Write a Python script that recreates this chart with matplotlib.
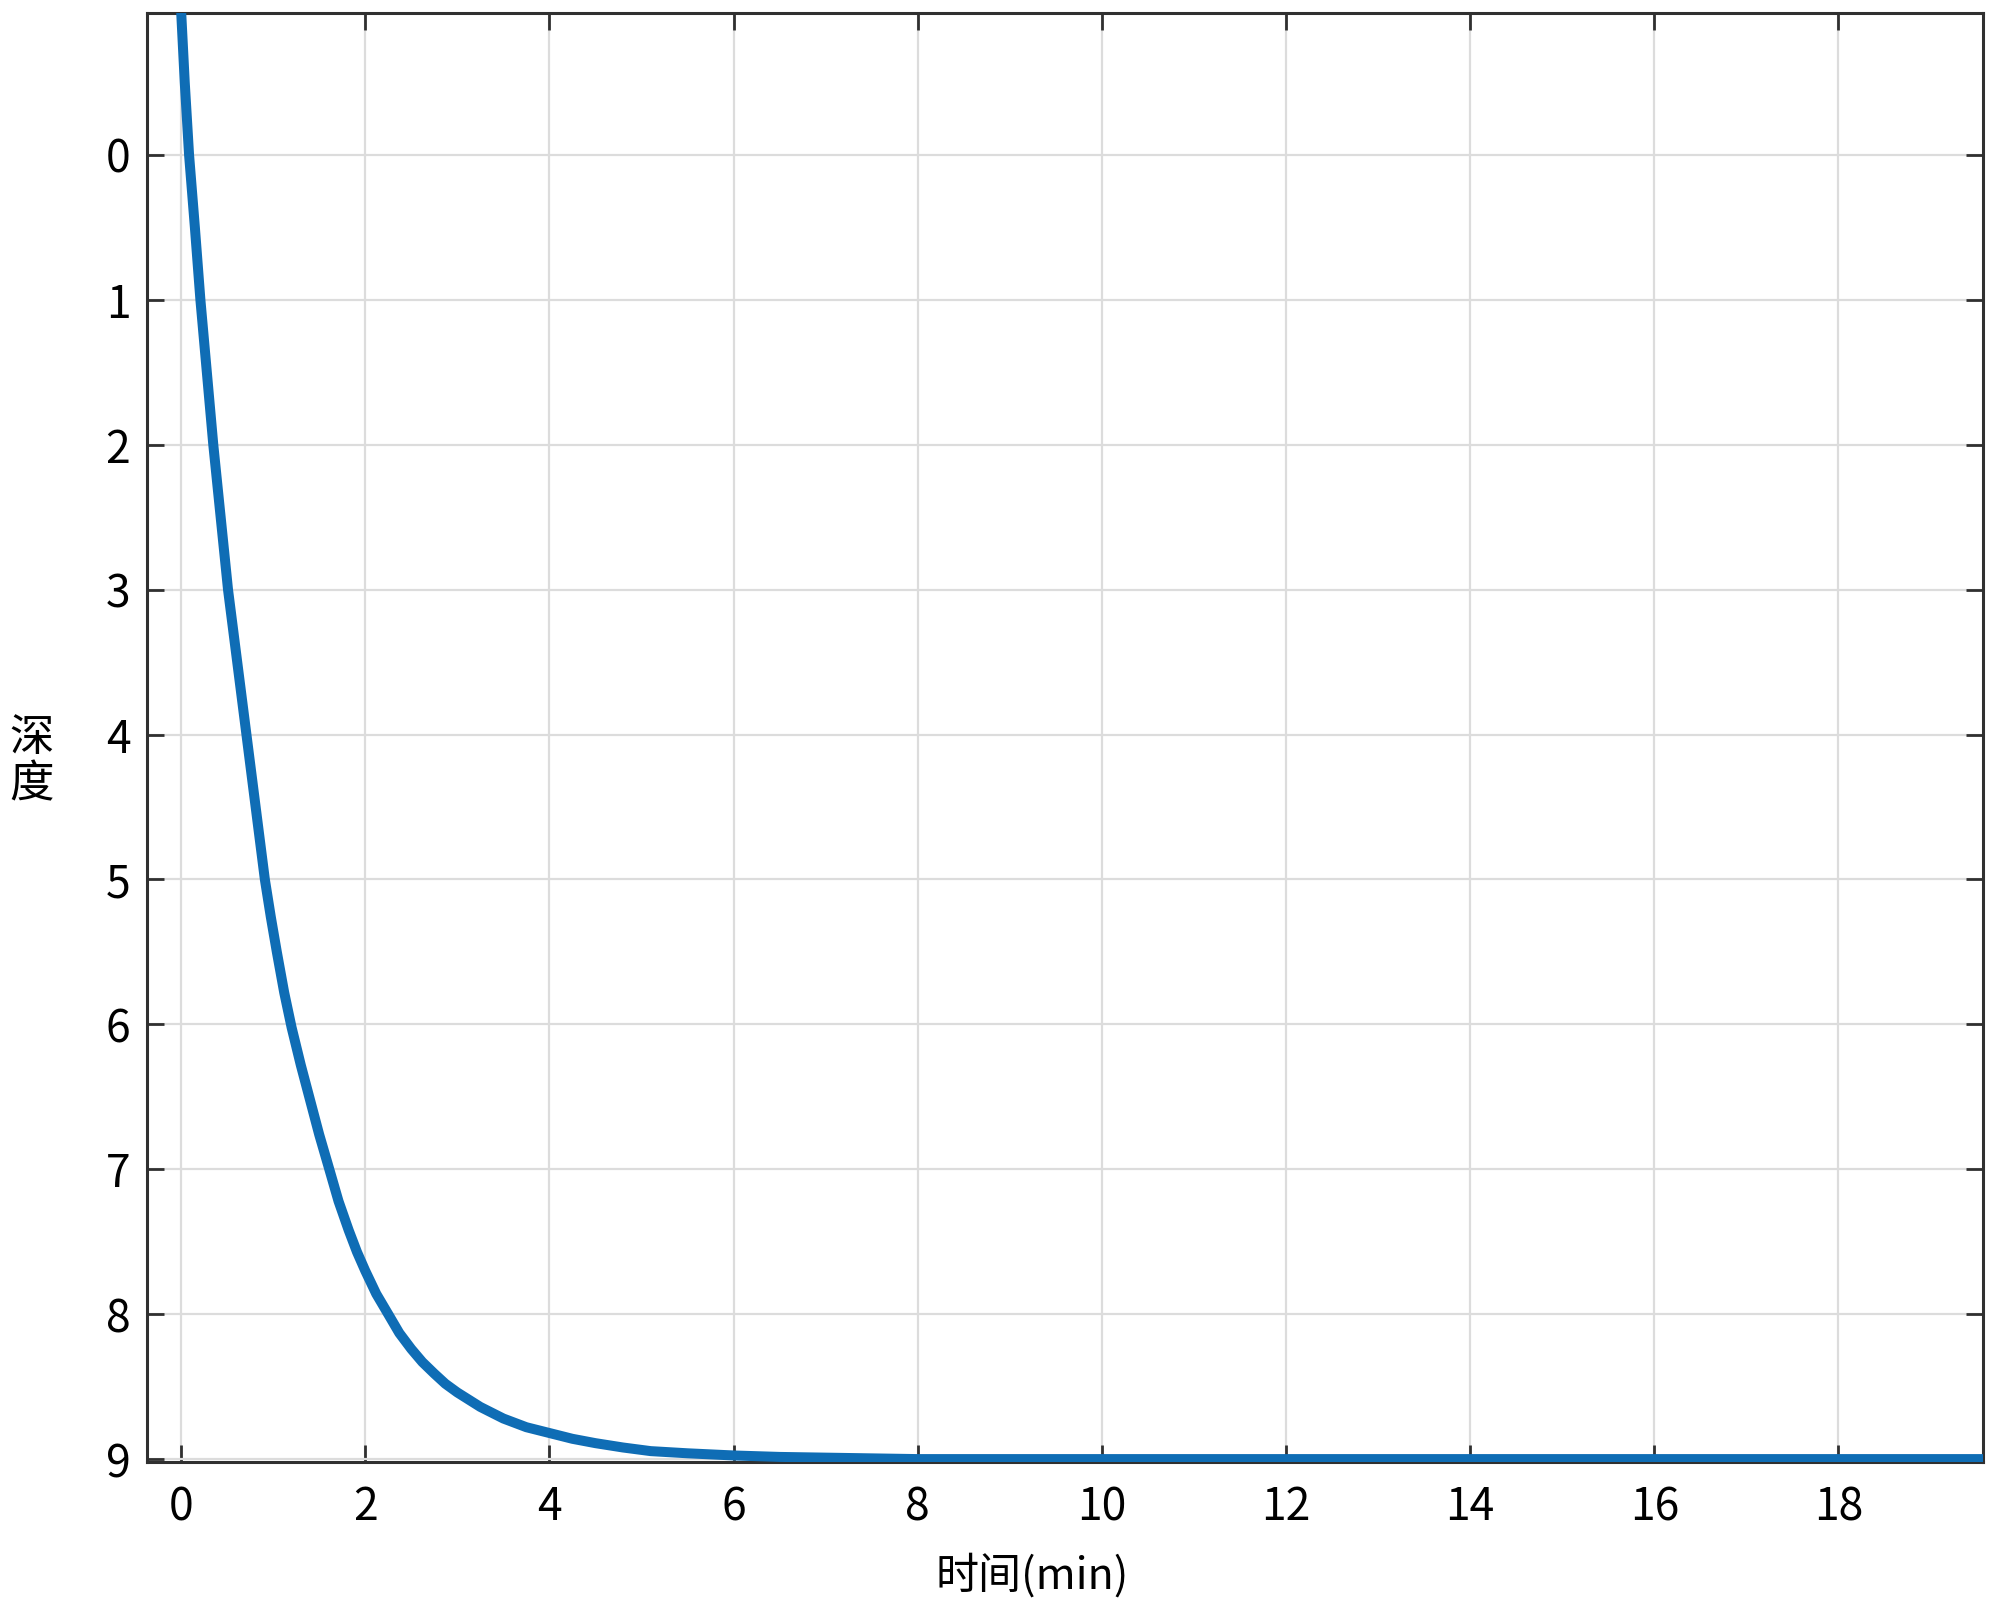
import matplotlib
matplotlib.use("Agg")
import matplotlib.pyplot as plt

plt.rcParams['font.family'] = ['Noto Sans CJK SC', 'DejaVu Sans']

# values
time_min = [0.0, 0.04, 0.087, 0.15, 0.21, 0.28, 0.35, 0.43, 0.51, 0.61, 0.71,
            0.81, 0.91, 0.975, 1.04, 1.12, 1.20, 1.30, 1.40, 1.50, 1.61, 1.71, 1.82,
            1.91, 2.0, 2.12, 2.25, 2.37, 2.5, 2.62, 2.75, 2.87, 3.0, 3.25,
            3.5, 3.75, 4.0, 4.25, 4.5, 4.8, 5.1, 5.5, 6.0, 6.5,
            7.0, 8.0, 10.0, 12.0, 14.0, 16.0, 18.0, 19.6]
depth = [-1.0, -0.5, 0.0, 0.5, 1.0, 1.5, 2.0, 2.5, 3.0, 3.5, 4.0,
         4.5, 5.0, 5.26, 5.5, 5.78, 6.02, 6.28, 6.52, 6.76, 7.0, 7.22, 7.42,
         7.57, 7.7, 7.86, 8.0, 8.13, 8.24, 8.33, 8.41, 8.48, 8.54, 8.64,
         8.72, 8.78, 8.82, 8.86, 8.89, 8.92, 8.945, 8.96, 8.975, 8.985,
         8.99, 9.0, 9.0, 9.0, 9.0, 9.0, 9.0, 9.0]

x_ticks = [0, 2, 4, 6, 8, 10, 12, 14, 16, 18]
y_ticks = [0, 1, 2, 3, 4, 5, 6, 7, 8, 9]
x_label = "时间(min)"
y_label = "深\n度"

fig = plt.figure(figsize=(20, 16.02), dpi=100)
ax = fig.add_axes([0.0735, 0.0874, 0.918, 0.9045])

ax.plot(time_min, depth, color='#0F6DB5', linewidth=7.2,
        solid_joinstyle='round', solid_capstyle='butt', zorder=3)

ax.set_xlim(-0.37, 19.57)
ax.set_ylim(9.02, -0.98)
ax.set_xticks(x_ticks)
ax.set_yticks(y_ticks)
ax.grid(True, color='#dcdcdc', linewidth=1.6)
ax.set_axisbelow(True)

for s in ax.spines.values():
    s.set_color('#303030')
    s.set_linewidth(2.2)

ax.tick_params(direction='in', length=12, width=2, colors='#303030',
               top=True, right=True, labelsize=32, labelcolor='black')
ax.tick_params(axis='x', pad=16)
ax.tick_params(axis='y', pad=12)

ax.set_xlabel(x_label, fontsize=31, labelpad=17)
ax.xaxis.label.set_x(0.482)
fig.text(0.016, 0.525, y_label, fontsize=32, ha='center', va='center',
         linespacing=1.0)

fig.savefig("out.png", dpi=100, facecolor='white')
